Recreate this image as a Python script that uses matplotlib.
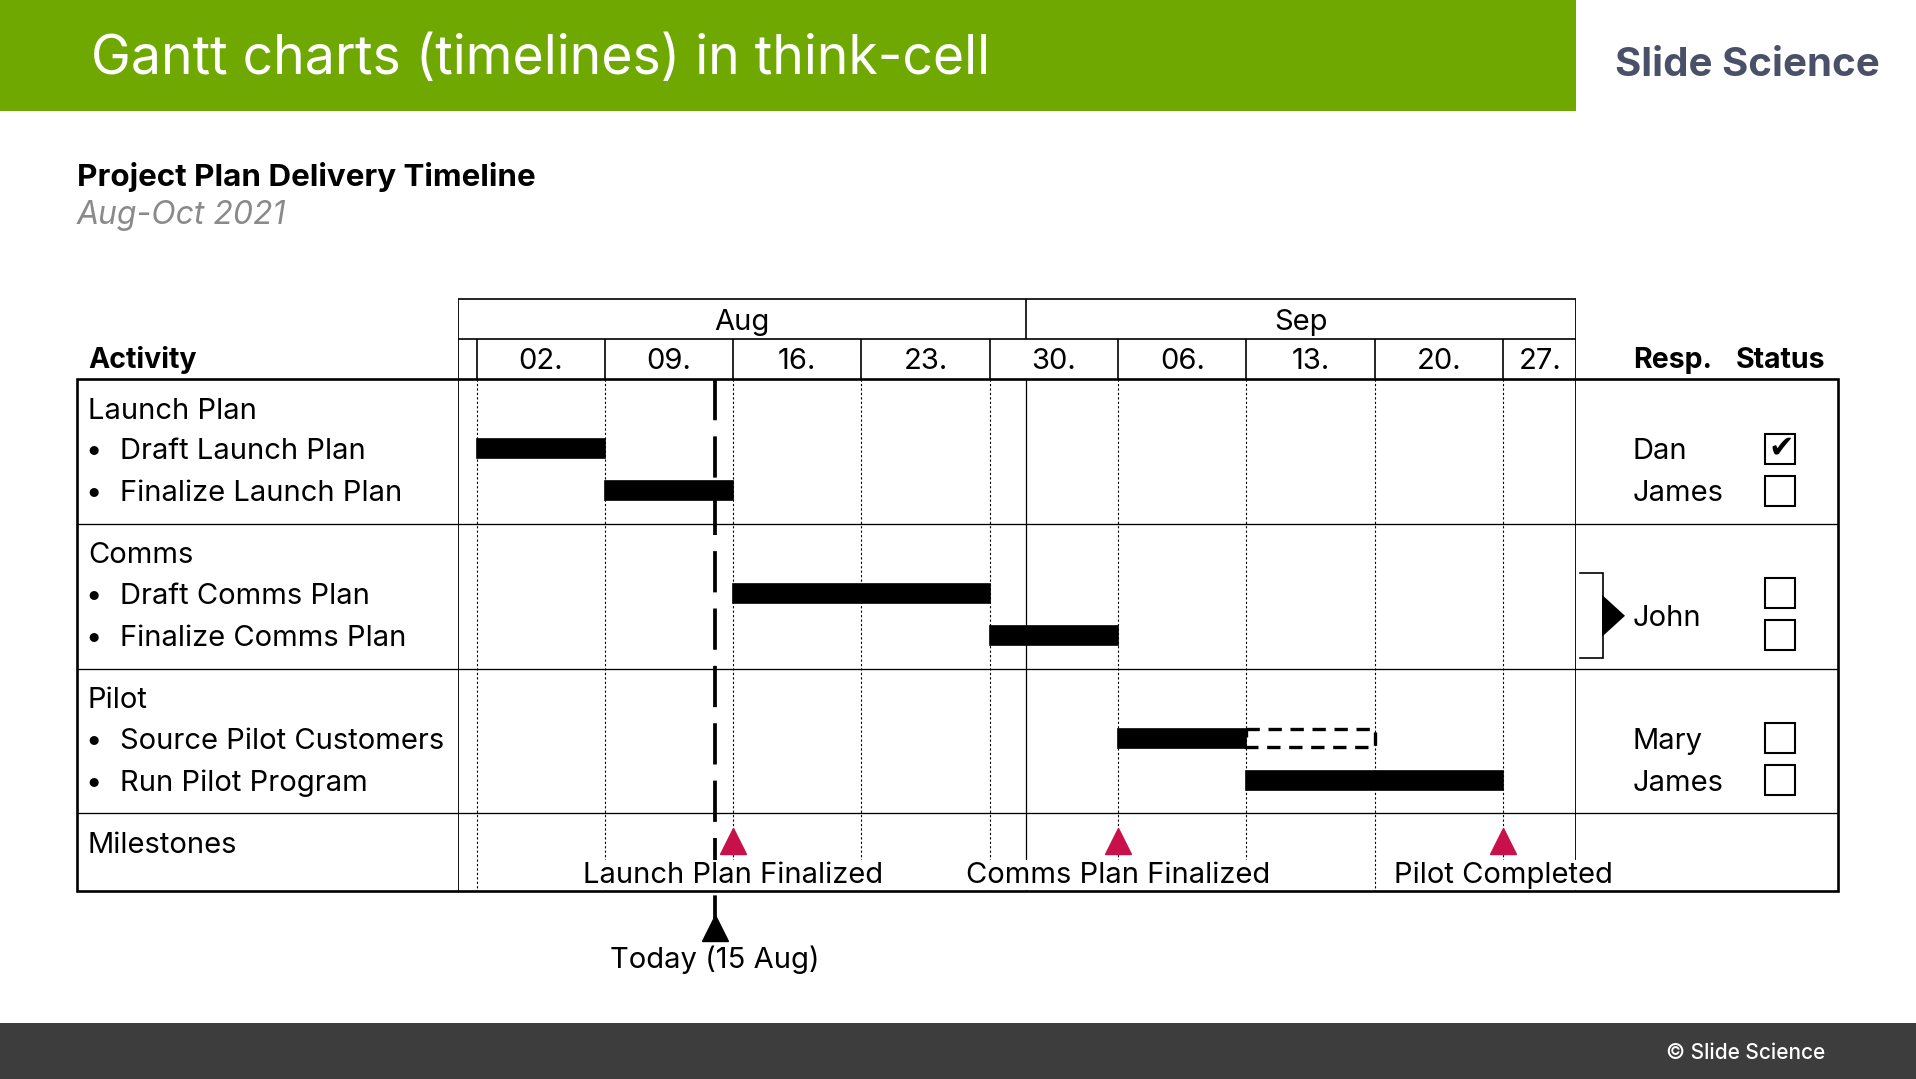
import matplotlib
matplotlib.use("Agg")
import matplotlib.pyplot as plt
import matplotlib.dates as mdates
from matplotlib.patches import Rectangle, Polygon
from datetime import date, timedelta

plt.rcParams['font.family'] = ['Inter', 'DejaVu Sans']

# ---- data ----
groups = ["Launch Plan", "Comms", "Pilot"]
tasks = ["Draft Launch Plan", "Finalize Launch Plan",
         "Draft Comms Plan", "Finalize Comms Plan",
         "Source Pilot Customers", "Run Pilot Program"]
task_group = [0, 0, 1, 1, 2, 2]
task_start = ["2021-08-02", "2021-08-09", "2021-08-16", "2021-08-30", "2021-09-06", "2021-09-13"]
task_end = ["2021-08-09", "2021-08-16", "2021-08-30", "2021-09-06", "2021-09-13", "2021-09-27"]
task_extension = [None, None, None, None, "2021-09-20", None]   # dashed (tentative) part
resp = ["Dan", "James", "John", "John", "Mary", "James"]
done = [True, False, False, False, False, False]

milestones = ["Launch Plan Finalized", "Comms Plan Finalized", "Pilot Completed"]
milestone_dates = ["2021-08-16", "2021-09-06", "2021-09-27"]
today = "2021-08-15"

months = ["Aug", "Sep"]
month_starts = ["2021-08-01", "2021-09-01"]
range_start, range_end = "2021-08-01", "2021-10-01"


def d2n(s):
    return mdates.date2num(date.fromisoformat(s))


# ---- layout (pixels) ----
W, H = 1916, 1079
FS = 21      # body text
HFS = 20.5   # bold column headers
BLACK = "#000000"
RED = "#C8104A"


def base(yc, fs=FS):
    # baseline for text whose capitals are centred on yc
    return yc + 0.727 * fs * 100 / 72 / 2


fig = plt.figure(figsize=(W / 100, H / 100), dpi=100)
fr = fig.add_axes([0, 0, 1, 1])
fr.set_xlim(0, W)
fr.set_ylim(H, 0)
fr.axis('off')

# header banner and footer
fr.add_patch(Rectangle((0, 0), 1576, 111, color="#6FA800", lw=0))
fr.text(91, base(55, 38.5), "Gantt charts (timelines) in think-cell", color="white",
        fontsize=38.5, va='baseline')
fr.text(1615, base(61, 29), "Slide Science", color="#4A5068", fontsize=29,
        fontweight='bold', va='baseline')
fr.add_patch(Rectangle((0, 1023), W, 56, color="#3D3D3D", lw=0))
fr.text(1825, base(1051, 15), "© Slide Science", color="white", fontsize=15,
        ha='right', va='baseline', fontweight='medium')

fr.text(77, base(175, 22.6), "Project Plan Delivery Timeline", fontsize=22.6,
        fontweight='bold', va='baseline')
fr.text(77, base(212.5, 23), "Aug-Oct 2021", fontsize=23, style='italic',
        color="#8A8A8A", va='baseline')

# table geometry
L, C1, C2, R = 77, 458.2, 1576.3, 1838
top, bottom = 379, 891
gh = 144.8
group_top = [top + i * gh for i in range(4)]
mile_top = group_top[3]
task_y = [group_top[g] + (69.5 if tasks.index(t) % 2 == 0 else 111.5)
          for t, g in zip(tasks, task_group)]

fr.add_patch(Rectangle((L, top), R - L, bottom - top, fill=False, lw=1.9, ec=BLACK))
fr.hlines(group_top[1:], L, R, colors=BLACK, lw=0.95)

fr.text(88, base(358, HFS), "Activity", fontsize=HFS, fontweight='bold', va='baseline')
fr.text(1633, base(358, HFS), "Resp.", fontsize=HFS, fontweight='bold', va='baseline')
fr.text(1736, base(358, HFS), "Status", fontsize=HFS, fontweight='bold', va='baseline')

for g, name in enumerate(groups):
    fr.text(88, base(group_top[g] + 29), name, fontsize=FS, va='baseline')
fr.text(88, base(mile_top + 29), "Milestones", fontsize=FS, va='baseline')
for t, y in zip(tasks, task_y):
    fr.text(94, base(y), "•", fontsize=FS, va='baseline', ha='center')
    fr.text(120, base(y), t, fontsize=FS, va='baseline')

# responsible + status
i = 0
while i < len(tasks):
    if i + 1 < len(tasks) and resp[i + 1] == resp[i] and task_group[i] == task_group[i + 1]:
        y0, y1 = task_y[i] - 20, task_y[i + 1] + 23
        fr.plot([1580, 1603, 1603, 1580], [y0, y0, y1, y1], color=BLACK, lw=1.2,
                solid_joinstyle='miter')
        ym = (y0 + y1) / 2
        fr.add_patch(Polygon([(1602, ym - 21), (1625, ym), (1602, ym + 21)], color=BLACK, lw=0))
        fr.text(1633, base(ym), resp[i], fontsize=FS, va='baseline')
        i += 2
    else:
        fr.text(1633, base(task_y[i]), resp[i], fontsize=FS, va='baseline')
        i += 1
for y, ok in zip(task_y, done):
    fr.add_patch(Rectangle((1765, y - 15), 30, 30, fill=False, ec=BLACK, lw=1.5))
    if ok:
        fr.text(1781, y - 1, "✔", fontsize=22, family='DejaVu Sans', ha='center',
                va='center')

# ---- timeline axes (x = dates) ----
tl = fig.add_axes([C1 / W, 0, (C2 - C1) / W, 1], zorder=2)
tl.set_xlim(d2n(range_start), d2n(range_end))
tl.set_ylim(H, 0)
tl.axis('off')

x0, x1 = d2n(range_start), d2n(range_end)
mondays = []
d = date.fromisoformat("2021-08-02")
while d < date.fromisoformat(range_end):
    mondays.append(d)
    d += timedelta(days=7)
mon_n = [mdates.date2num(m) for m in mondays]

# header cells
tl.hlines([299.4, 339], x0, x1, colors=BLACK, lw=1.2)
tl.vlines([x0, x1], 299.4, bottom, colors=BLACK, lw=1.3)
tl.vlines(d2n(month_starts[1]), 299.4, 339, colors=BLACK, lw=1.2)
tl.vlines(mon_n, 339, top, colors=BLACK, lw=1.2)
m_edges = [d2n(m) for m in month_starts] + [x1]
for k, m in enumerate(months):
    tl.text((m_edges[k] + m_edges[k + 1]) / 2, base(319), m, fontsize=FS,
            ha='center', va='baseline')
w_edges = mon_n + [x1]
for k, m in enumerate(mondays):
    tl.text((w_edges[k] + w_edges[k + 1]) / 2, base(358), m.strftime("%d."),
            fontsize=FS, ha='center', va='baseline')

# grid
tl.vlines(mon_n, top, bottom, colors=BLACK, lw=0.8, linestyles=(0, (2, 2)), zorder=1)
tl.vlines(d2n(month_starts[1]), top, bottom, colors=BLACK, lw=0.9, zorder=1)

# bars
for s, e, ext, y in zip(task_start, task_end, task_extension, task_y):
    tl.barh(y, d2n(e) - d2n(s), left=d2n(s), height=19, color=BLACK,
            ec=BLACK, lw=1.2, zorder=3)
    if ext:
        tl.barh(y, d2n(ext) - d2n(e), left=d2n(e), height=17.5, fill=False,
                ec=BLACK, lw=2.4, linestyle=(0, (4, 2.6)), zorder=3)

# today line
tn = d2n(today)
tl.plot([tn, tn], [top, 927], color=BLACK, lw=2.7, dashes=(11, 4.3), zorder=4)
tl.plot(tn, 927.5, marker='^', ms=19, color=BLACK, zorder=5)
tl.text(tn, base(957), "Today (%d %s)" % (date.fromisoformat(today).day,
        date.fromisoformat(today).strftime("%b")), fontsize=FS, ha='center', va='baseline')

# milestones
for name, md in zip(milestones, milestone_dates):
    tl.plot(d2n(md), 841, marker='^', ms=19, color=RED, zorder=5)
    tl.text(d2n(md), base(872), name, fontsize=FS, ha='center', va='baseline',
            zorder=6, bbox=dict(fc='white', ec='none', pad=1))

fig.savefig("out.png", dpi=100)
